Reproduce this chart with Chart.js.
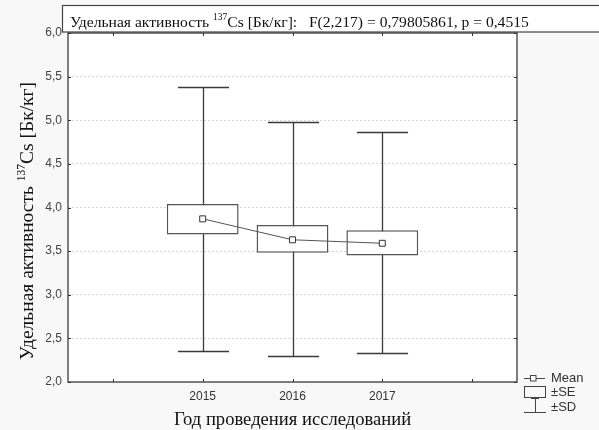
<!DOCTYPE html>
<html>
<head>
<meta charset="utf-8">
<script src="https://cdn.jsdelivr.net/npm/chart.js@4"></script>
<style>
  html, body { margin: 0; padding: 0; background: #f8f8f8; }
  #wrap { width: 599px; height: 430px; }
</style>
</head>
<body>
<div id="wrap"><canvas id="c" width="599" height="430"></canvas></div>
<script>
// ---- data ----
const categories = ['', '2015', '2016', '2017', ''];
const means  = [null, 3.87, 3.63, 3.59, null];
const seLow  = [null, 3.69, 3.48, 3.45, null];
const seHigh = [null, 4.04, 3.80, 3.74, null];
const sdLow  = [null, 2.35, 2.30, 2.33, null];
const sdHigh = [null, 5.38, 4.98, 4.86, null];
const yMin = 2.0, yMax = 6.0, yStep = 0.5;

const titleMain = 'Удельная активность ';
const titleSup = '137';
const titleRest = 'Cs [Бк/кг]:   F(2,217) = 0,79805861, p = 0,4515';
const yTitleMain = 'Удельная активность ';
const yTitleSup = '137';
const yTitleRest = 'Cs [Бк/кг]';
const xTitle = 'Год проведения исследований';
const legendItems = ['Mean', '±SE', '±SD'];

const SANS = '"Liberation Sans", Arial, sans-serif';
const SERIF = '"Liberation Serif", "Times New Roman", serif';
const FRAME = '#555';

const seBars = categories.map((_, i) => seLow[i] == null ? null : [seLow[i], seHigh[i]]);

function drawSupText(ctx, x, y, parts, size, supSize) {
  ctx.textAlign = 'left';
  ctx.textBaseline = 'alphabetic';
  ctx.font = size + 'px ' + SERIF;
  ctx.fillText(parts[0], x, y);
  x += ctx.measureText(parts[0]).width;
  ctx.font = supSize + 'px ' + SERIF;
  ctx.fillText(parts[1], x, y - size * 0.42);
  x += ctx.measureText(parts[1]).width;
  ctx.font = size + 'px ' + SERIF;
  ctx.fillText(parts[2], x, y);
}
function supTextWidth(ctx, parts, size, supSize) {
  ctx.font = size + 'px ' + SERIF;
  let w = ctx.measureText(parts[0]).width + ctx.measureText(parts[2]).width;
  ctx.font = supSize + 'px ' + SERIF;
  return w + ctx.measureText(parts[1]).width;
}

const decor = {
  id: 'decor',
  beforeDraw(chart) {
    const { ctx, chartArea: a } = chart;
    ctx.save();
    ctx.fillStyle = '#f8f8f8';
    ctx.fillRect(0, 0, chart.width, chart.height);
    ctx.fillStyle = '#ffffff';
    ctx.fillRect(a.left, a.top, a.right - a.left, a.bottom - a.top);
    ctx.restore();
  },
  beforeDatasetsDraw(chart) {
    const { ctx } = chart;
    const xs = chart.scales.x, ys = chart.scales.y;
    const step = xs.getPixelForValue(1) - xs.getPixelForValue(0);
    const half = step * 0.285;
    ctx.save();
    ctx.strokeStyle = '#3a3a3a';
    ctx.lineWidth = 1.3;
    categories.forEach((_, i) => {
      if (sdLow[i] == null) return;
      const x = Math.round(xs.getPixelForValue(i)) + 0.5;
      const yt = Math.round(ys.getPixelForValue(sdHigh[i])) + 0.5;
      const yb = Math.round(ys.getPixelForValue(sdLow[i])) + 0.5;
      ctx.beginPath();
      ctx.moveTo(x, yt); ctx.lineTo(x, yb);
      ctx.moveTo(x - half, yt); ctx.lineTo(x + half, yt);
      ctx.moveTo(x - half, yb); ctx.lineTo(x + half, yb);
      ctx.stroke();
    });
    ctx.restore();
  },
  afterDraw(chart) {
    const { ctx, chartArea: a } = chart;
    const xs = chart.scales.x, ys = chart.scales.y;
    ctx.save();
    ctx.strokeStyle = FRAME;
    ctx.lineWidth = 1.5;
    ctx.strokeRect(a.left, a.top, a.right - a.left, a.bottom - a.top);
    ctx.lineWidth = 1;
    ctx.strokeStyle = '#333';
    ctx.beginPath();
    categories.forEach((_, i) => {
      const x = Math.round(xs.getPixelForValue(i)) + 0.5;
      ctx.moveTo(x, a.bottom); ctx.lineTo(x, a.bottom - 3);
      ctx.moveTo(x, a.top); ctx.lineTo(x, a.top + 3);
    });
    for (let v = yMin; v <= yMax + 1e-9; v += yStep) {
      const y = Math.round(ys.getPixelForValue(v)) + 0.5;
      ctx.moveTo(a.left, y); ctx.lineTo(a.left + 3, y);
      ctx.moveTo(a.right, y); ctx.lineTo(a.right - 3, y);
    }
    ctx.stroke();

    // title box
    ctx.fillStyle = '#ffffff';
    ctx.fillRect(62, 5, 540, 27);
    ctx.strokeStyle = '#444';
    ctx.lineWidth = 1.2;
    ctx.strokeRect(62.5, 5.5, 540, 26.5);
    ctx.fillStyle = '#111';
    drawSupText(ctx, 70, 26.5, [titleMain, titleSup, titleRest], 15.6, 9.5);

    // y axis title (rotated)
    ctx.save();
    ctx.translate(33, 221);
    ctx.rotate(-Math.PI / 2);
    const w = supTextWidth(ctx, [yTitleMain, yTitleSup, yTitleRest], 19.5, 11.5);
    ctx.fillStyle = '#111';
    drawSupText(ctx, -w / 2, 0, [yTitleMain, yTitleSup, yTitleRest], 19.5, 11.5);
    ctx.restore();

    // x axis title
    ctx.fillStyle = '#111';
    ctx.font = '18.6px ' + SERIF;
    ctx.textAlign = 'center';
    ctx.textBaseline = 'alphabetic';
    ctx.fillText(xTitle, xs.getPixelForValue(2), 425);

    // legend
    ctx.strokeStyle = '#444';
    ctx.lineWidth = 1;
    ctx.beginPath();
    ctx.moveTo(524, 378.5); ctx.lineTo(530, 378.5);
    ctx.moveTo(536, 378.5); ctx.lineTo(545, 378.5);
    ctx.stroke();
    ctx.fillStyle = '#fff';
    ctx.fillRect(530.5, 375.5, 5.5, 5.5);
    ctx.strokeRect(530.5, 375.5, 5.5, 5.5);
    ctx.strokeRect(524.5, 386.5, 21, 11);
    ctx.beginPath();
    ctx.moveTo(531, 398.5); ctx.lineTo(539, 398.5);
    ctx.moveTo(535.5, 398.5); ctx.lineTo(535.5, 412);
    ctx.moveTo(524, 412.5); ctx.lineTo(546, 412.5);
    ctx.stroke();
    ctx.fillStyle = '#333';
    ctx.font = '13px ' + SANS;
    ctx.textAlign = 'left';
    ctx.textBaseline = 'middle';
    ctx.fillText(legendItems[0], 551, 378);
    ctx.fillText(legendItems[1], 551, 392);
    ctx.fillText(legendItems[2], 551, 407);
    ctx.restore();
  }
};

new Chart(document.getElementById('c'), {
  data: {
    labels: categories,
    datasets: [
      {
        type: 'line',
        label: 'Mean',
        data: means,
        order: 1,
        borderColor: '#555',
        borderWidth: 1,
        pointStyle: 'rect',
        pointRadius: 4.2,
        pointBackgroundColor: '#fff',
        pointBorderColor: '#333',
        pointBorderWidth: 1,
        tension: 0
      },
      {
        type: 'bar',
        label: '±SE',
        data: seBars,
        order: 2,
        backgroundColor: '#ffffff',
        borderColor: '#555',
        borderWidth: 1.5,
        borderSkipped: false,
        barPercentage: 0.8,
        categoryPercentage: 1.0
      }
    ]
  },
  options: {
    responsive: false,
    devicePixelRatio: 1,
    animation: false,
    layout: { padding: { top: 33, right: 82, left: 0, bottom: 0 } },
    plugins: { legend: { display: false }, tooltip: { enabled: false }, title: { display: false } },
    scales: {
      x: {
        type: 'category',
        offset: true,
        grid: { display: false, drawTicks: false },
        border: { display: false },
        ticks: { autoSkip: false, maxRotation: 0, padding: 7, color: '#333', font: { family: SANS, size: 12 } },
        afterFit(scale) { scale.height = 48; }
      },
      y: {
        type: 'linear',
        min: yMin,
        max: yMax,
        grid: { color: '#d6d6d6', lineWidth: 1, drawTicks: false },
        border: { display: false, dash: [2, 2] },
        ticks: {
          stepSize: yStep,
          padding: 6,
          color: '#444',
          font: { family: SANS, size: 12 },
          callback: (v) => Number(v).toFixed(1).replace('.', ',')
        },
        afterFit(scale) { scale.width = 68; }
      }
    }
  },
  plugins: [decor]
});
</script>
</body>
</html>
